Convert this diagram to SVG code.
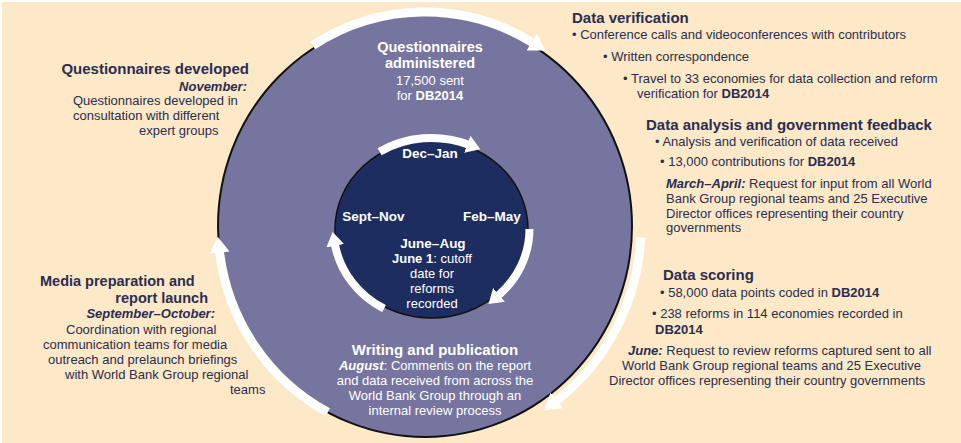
<svg xmlns="http://www.w3.org/2000/svg" width="961" height="443" viewBox="0 0 961 443">
<style>
.t{font-family:"Liberation Sans",Arial,sans-serif;font-size:13px;fill:#2B2E50}
.h{font-family:"Liberation Sans",Arial,sans-serif;font-size:15px;font-weight:bold;fill:#2B2E50}
.hs{font-size:14.5px}
.m{font-family:"Liberation Sans",Arial,sans-serif;font-size:13.5px;font-weight:bold;fill:#fff}
.w{fill:#fff}
.b{font-weight:bold}
.bi{font-weight:bold;font-style:italic}
.arc{fill:none;stroke:#fff;stroke-width:9}
.arci{fill:none;stroke:#fff;stroke-width:8}
</style>
<defs>
<marker id="ah" markerUnits="userSpaceOnUse" markerWidth="18" markerHeight="22" viewBox="0 -11 18 22" refX="1" refY="0" orient="auto">
<path d="M0,-10 L16,0 L0,10 z" fill="#fff"/>
</marker>
<marker id="ahi" markerUnits="userSpaceOnUse" markerWidth="16" markerHeight="20" viewBox="0 -10 16 20" refX="1" refY="0" orient="auto">
<path d="M0,-9 L14,0 L0,9 z" fill="#fff"/>
</marker>
</defs>
<rect x="0" y="0" width="961" height="443" fill="#fff"/>
<rect x="2" y="2" width="959" height="441" fill="#FDE8C7"/>
<g id="outer-circle">
<ellipse cx="425" cy="226" rx="207" ry="211" fill="#76759F" stroke="#111" stroke-width="2"/>
</g>
<g id="inner-circle">
<ellipse cx="431.5" cy="229" rx="96.5" ry="89" fill="#1D2D60" stroke="#111" stroke-width="1.5"/>
</g>
<g id="connectors">
<path class="arc" d="M312.7,45.5 A209,214 0 0 1 532.6,42.6" marker-end="url(#ah)"/>
<path class="arc" d="M640.7,237.5 A216,220 0 0 1 556,401" marker-end="url(#ah)"/>
<path class="arc" d="M327.8,412.3 A207,211 0 0 1 219.5,251.7" marker-end="url(#ah)"/>
<path class="arci" d="M379.6,151.8 A98,91 0 0 1 468.2,144.6" marker-end="url(#ahi)"/>
<path class="arci" d="M529.5,229 A98,91 0 0 1 498.3,295.5" marker-end="url(#ahi)"/>
<path class="arci" d="M384,308.6 A98,91 0 0 1 335,244.8" marker-end="url(#ahi)"/>
</g>
<g id="questionnaires-developed">
<text class="h" x="249" y="74" text-anchor="end">Questionnaires developed</text>
<text class="t bi" x="247" y="91" text-anchor="end">November:</text>
<text class="t" x="73" y="105">Questionnaires developed in</text>
<text class="t" x="73" y="120">consultation with different</text>
<text class="t" x="139" y="135">expert groups</text>
</g>
<g id="questionnaires-administered">
<text class="h hs w" x="430" y="51.5" text-anchor="middle">Questionnaires</text>
<text class="h hs w" x="430" y="68" text-anchor="middle">administered</text>
<text class="t w" x="430" y="85" text-anchor="middle">17,500 sent</text>
<text class="t w" x="430" y="100" text-anchor="middle">for <tspan class="b">DB2014</tspan></text>
</g>
<g id="data-verification">
<text class="h" x="572" y="23">Data verification</text>
<text class="t" x="572" y="39">• Conference calls and videoconferences with contributors</text>
<text class="t" x="603" y="61">• Written correspondence</text>
<text class="t" x="623" y="83">• Travel to 33 economies for data collection and reform</text>
<text class="t" x="637" y="98">verification for <tspan class="b">DB2014</tspan></text>
</g>
<g id="data-analysis">
<text class="h" x="646" y="130">Data analysis and government feedback</text>
<text class="t" x="655" y="146">• Analysis and verification of data received</text>
<text class="t" x="660" y="166">• 13,000 contributions for <tspan class="b">DB2014</tspan></text>
<text class="t" x="666" y="188"><tspan class="bi">March–April:</tspan> Request for input from all World</text>
<text class="t" x="666" y="203">Bank Group regional teams and 25 Executive</text>
<text class="t" x="666" y="218">Director offices representing their country</text>
<text class="t" x="666" y="232">governments</text>
</g>
<g id="data-scoring">
<text class="h" x="663" y="280">Data scoring</text>
<text class="t" x="660" y="297">• 58,000 data points coded in <tspan class="b">DB2014</tspan></text>
<text class="t" x="652" y="318">• 238 reforms in 114 economies recorded in</text>
<text class="t b" x="655" y="334">DB2014</text>
<text class="t" x="628" y="355"><tspan class="bi">June:</tspan> Request to review reforms captured sent to all</text>
<text class="t" x="622" y="370">World Bank Group regional teams and 25 Executive</text>
<text class="t" x="609" y="385">Director offices representing their country governments</text>
</g>
<g id="media-preparation">
<text class="h hs" x="40" y="286">Media preparation and</text>
<text class="h hs" x="208" y="302.5" text-anchor="end">report launch</text>
<text class="t bi" x="215" y="318" text-anchor="end">September–October:</text>
<text class="t" x="66" y="334">Coordination with regional</text>
<text class="t" x="43" y="349">communication teams for media</text>
<text class="t" x="48" y="364">outreach and prelaunch briefings</text>
<text class="t" x="65" y="379">with World Bank Group regional</text>
<text class="t" x="230" y="394">teams</text>
</g>
<g id="writing-publication">
<text class="h w" x="435" y="355" text-anchor="middle">Writing and publication</text>
<text class="t w" x="435" y="370" text-anchor="middle"><tspan class="bi">August</tspan>: Comments on the report</text>
<text class="t w" x="435" y="385" text-anchor="middle">and data received from across the</text>
<text class="t w" x="435" y="400" text-anchor="middle">World Bank Group through an</text>
<text class="t w" x="435" y="415" text-anchor="middle">internal review process</text>
</g>
<g id="dec-jan">
<text class="m" x="430" y="158" text-anchor="middle">Dec–Jan</text>
</g>
<g id="feb-may">
<text class="m" x="492" y="221" text-anchor="middle">Feb–May</text>
</g>
<g id="june-aug">
<text class="m" x="433" y="248" text-anchor="middle">June–Aug</text>
<text class="t w" x="432" y="263" text-anchor="middle"><tspan class="b">June 1</tspan>: cutoff</text>
<text class="t w" x="432" y="278" text-anchor="middle">date for</text>
<text class="t w" x="432" y="293" text-anchor="middle">reforms</text>
<text class="t w" x="432" y="308" text-anchor="middle">recorded</text>
</g>
<g id="sept-nov">
<text class="m" x="373.5" y="221" text-anchor="middle">Sept–Nov</text>
</g>
</svg>
